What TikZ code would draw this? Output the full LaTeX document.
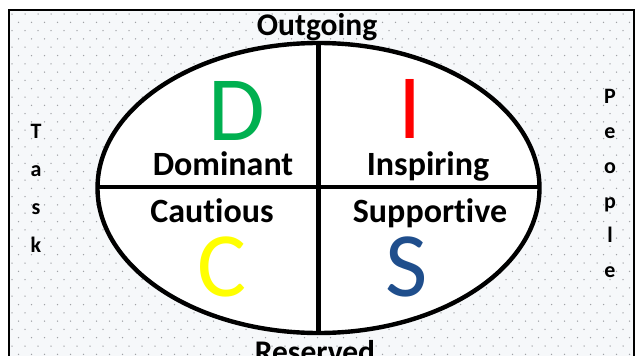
\documentclass[tikz,border=0pt]{standalone}
\usepackage{fontspec}
\setmainfont[Ligatures=NoCommon]{Carlito}
\definecolor{dgreen}{HTML}{00B050}
\definecolor{dred}{HTML}{FF0000}
\definecolor{dyellow}{HTML}{FFFF00}
\definecolor{dblue}{HTML}{1F4E8C}
\definecolor{bgfill}{HTML}{F6F8FA}
\definecolor{dotc}{HTML}{A0A2A6}
\begin{document}
\begin{tikzpicture}[x=1pt,y=-1pt,
  lbl/.style={font=\fontsize{34}{35}\selectfont\bfseries, anchor=base, inner sep=0pt},
  axl/.style={font=\fontsize{31.5}{32}\selectfont\bfseries, anchor=base, inner sep=0pt},
  big/.style={font=\fontsize{92}{92}\selectfont, anchor=base, inner sep=0pt},
  side/.style={font=\fontsize{22}{22}\selectfont\bfseries, anchor=base, inner sep=0pt},
  thick line/.style={line width=4.4pt}]
\useasboundingbox (0,0) rectangle (638,356);
\fill[white] (0,0) rectangle (638,356);
\fill[bgfill] (9,10) rectangle (634,360);
\begin{scope}
\clip (10,11) rectangle (633,360);
\foreach \r in {0,...,42} {
  \pgfmathsetmacro{\yy}{14+\r*8.3}
  \pgfmathsetmacro{\off}{mod(\r,2)*6.5}
  \foreach \c in {0,...,48} {
    \fill[dotc] ({12+\off+\c*13},\yy) circle (0.75pt);
  }
}
\end{scope}
\draw[line width=2.4pt] (9,360) -- (9,10) -- (634,10) -- (634,360);
\fill[white] (318.5,188) ellipse [x radius=221, y radius=145];
\draw[thick line] (318.5,188) ellipse [x radius=221, y radius=145];
\coordinate (top) at (318.5,43);
\coordinate (bot) at (318.5,333);
\coordinate (lft) at (97.5,187);
\coordinate (rgt) at (539.5,187);
\draw[thick line] (top) -- (bot);
\draw[thick line] (lft) -- (rgt);
\node[axl] (out) at (317,35) {Outgoing};
\node[axl] (res) at (315,362) {Reserved};
\node[big, text=dgreen] (D) at (237,140) {D};
\node[big, text=dred] (I) at (410,138) {I};
\node[big, text=dyellow] (C) at (222,296) {C};
\node[big, text=dblue] (S) at (407,296) {S};
\node[lbl] (dom) at (223,175) {Dominant};
\node[lbl] (ins) at (428,175) {Inspiring};
\node[lbl] (cau) at (212,222) {Cautious};
\node[lbl] (sup) at (430,222) {Supportive};
\node[side] (t1) at (36,138) {T};
\node[side] (t2) at (36,176) {a};
\node[side] (t3) at (36,214) {s};
\node[side] (t4) at (36,252) {k};
\node[side] (p1) at (610,103) {P};
\node[side] (p2) at (610,138) {e};
\node[side] (p3) at (610,173) {o};
\node[side] (p4) at (610,208) {p};
\node[side] (p5) at (610,242) {l};
\node[side] (p6) at (610,277) {e};
\end{tikzpicture}
\end{document}
